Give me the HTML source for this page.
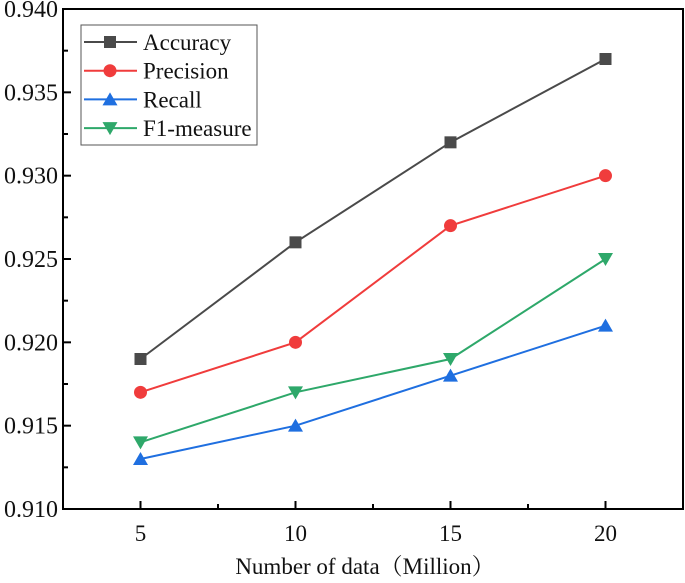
<!DOCTYPE html>
<html><head><meta charset="utf-8"><style>
body{margin:0;background:#fff}
text{font-family:"Liberation Serif","Noto Serif CJK SC",serif;fill:#111}
</style></head><body>
<svg id="chart" width="685" height="578" xmlns="http://www.w3.org/2000/svg"></svg>
<script>
const categories=[5,10,15,20];
const accuracy=[0.919,0.926,0.932,0.937];
const precision=[0.917,0.920,0.927,0.930];
const recall=[0.913,0.915,0.918,0.921];
const f1=[0.914,0.917,0.919,0.925];
const yTicks=[0.910,0.915,0.920,0.925,0.930,0.935,0.940];
const yTickLabels=["0.910","0.915","0.920","0.925","0.930","0.935","0.940"];
const xTickLabels=["5","10","15","20"];

const L=63,R=683,T=9,B=509;
const x=v=>L+(v-2.5)/20*(R-L);
const y=v=>B-(v-0.910)/0.030*(B-T);
const svg=document.getElementById('chart');
const NS="http://www.w3.org/2000/svg";
function mk(tag,attrs,parent){const e=document.createElementNS(NS,tag);for(const k in attrs)e.setAttribute(k,attrs[k]);(parent||svg).appendChild(e);return e;}

let fr=mk('rect',{x:L,y:T,width:R-L,height:B-T,fill:'none',stroke:'#000','stroke-width':2});



yTicks.forEach((v,i)=>{
  let t=mk('line',{x1:L,x2:L+8,y1:y(v),y2:y(v),stroke:'#000','stroke-width':2});
  
  
  if(i<yTicks.length-1){let m=mk('line',{x1:L,x2:L+5,y1:y(v+0.0025),y2:y(v+0.0025),stroke:'#000','stroke-width':2});
  
  }
  let l=mk('text',{x:L-5,y:y(v)+8,'text-anchor':'end','font-size':24});
  l.textContent=yTickLabels[i];
  
  
});
categories.forEach((c,i)=>{
  let t=mk('line',{x1:x(c),x2:x(c),y1:B,y2:B-8,stroke:'#000','stroke-width':2});
  
  
  let m=mk('line',{x1:x(c+2.5),x2:x(c+2.5),y1:B,y2:B-5,stroke:'#000','stroke-width':2});
  
  
  let l=mk('text',{x:x(c),y:B+32,'text-anchor':'middle','font-size':23});
  l.textContent=xTickLabels[i];
  
  
});
let xt=mk('text',{x:365,y:574,'text-anchor':'middle','font-size':23});
xt.textContent="Number of data（Million）";



function marker(kind,cx,cy,color,g){
  let e;
  if(kind==='square')e=mk('rect',{x:cx-6,y:cy-6,width:12,height:12,fill:color},g);
  else if(kind==='circle')e=mk('circle',{cx:cx,cy:cy,r:6.5,fill:color},g);
  else if(kind==='up')e=mk('polygon',{points:`${cx},${cy-7} ${cx-7.5},${cy+6} ${cx+7.5},${cy+6}`,fill:color},g);
  else e=mk('polygon',{points:`${cx},${cy+7} ${cx-7.5},${cy-6} ${cx+7.5},${cy-6}`,fill:color},g);
  return e;
}
const series=[
  {name:'Accuracy',data:accuracy,color:'#4a4a4a',m:'square',id:'accuracy'},
  {name:'Precision',data:precision,color:'#f03c3c',m:'circle',id:'precision'},
  {name:'Recall',data:recall,color:'#1f6fe0',m:'up',id:'recall'},
  {name:'F1-measure',data:f1,color:'#2ea86a',m:'down',id:'f1-measure'}
];
series.forEach(s=>{
  let g=mk('g',{});
  
  
  let p=mk('polyline',{points:s.data.map((v,i)=>x(categories[i])+','+y(v)).join(' '),fill:'none',stroke:s.color,'stroke-width':2},g);
  
  
  s.data.forEach((v,i)=>{
    let m=marker(s.m,x(categories[i]),y(v),s.color,g);
    
    
  });
});
let lg=mk('g',{});


let lb=mk('rect',{x:81,y:25,width:176,height:120,fill:'#fff',stroke:'#555','stroke-width':1},lg);


series.forEach((s,i)=>{
  const yy=42+i*28.7;
  let g=mk('g',{},lg);
  
  
  mk('line',{x1:84,x2:137,y1:yy,y2:yy,stroke:s.color,'stroke-width':2},g);
  marker(s.m,110,yy,s.color,g);
  let t=mk('text',{x:143,y:yy+8,'font-size':23},g);
  t.textContent=s.name;
});
</script>
</body></html>
